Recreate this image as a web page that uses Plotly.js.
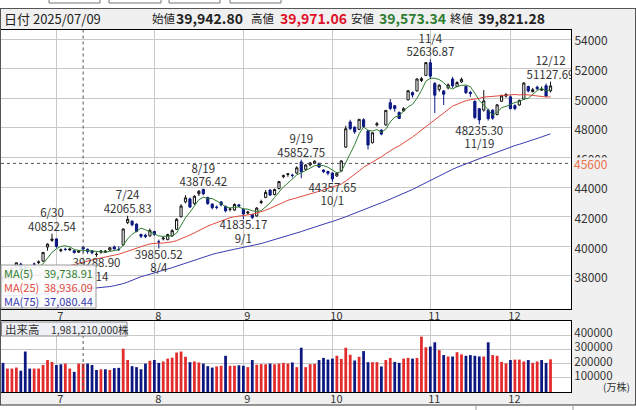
<!DOCTYPE html>
<html><head><meta charset="utf-8">
<script src="https://cdn.plot.ly/plotly-3.0.1.min.js"></script>
<style>html,body{margin:0;padding:0;background:#fff;}#chart{width:636px;height:410px;}</style>
</head><body><div id="chart"></div><script>
// ---------------- DATA ----------------
const dates = ['6/13','6/16','6/17','6/18','6/19','6/20','6/23','6/24','6/25','6/26','6/27','6/30',
'7/1','7/2','7/3','7/4','7/7','7/8','7/9','7/10','7/11','7/14','7/15','7/16','7/17','7/18','7/22','7/23','7/24','7/25','7/28','7/29','7/30','7/31',
'8/1','8/4','8/5','8/6','8/7','8/8','8/12','8/13','8/14','8/15','8/18','8/19','8/20','8/21','8/22','8/25','8/26','8/27','8/28','8/29',
'9/1','9/2','9/3','9/4','9/5','9/8','9/9','9/10','9/11','9/12','9/16','9/17','9/18','9/19','9/22','9/24','9/25','9/26','9/29','9/30',
'10/1','10/2','10/3','10/6','10/7','10/8','10/9','10/10','10/14','10/15','10/16','10/17','10/20','10/21','10/22','10/23','10/24','10/27','10/28','10/29','10/30','10/31',
'11/4','11/5','11/6','11/7','11/10','11/11','11/12','11/13','11/14','11/17','11/18','11/19','11/20','11/21','11/25','11/26','11/27','11/28',
'12/1','12/2','12/3','12/4','12/5','12/8','12/9','12/10','12/11','12/12'];

const opens = [37900,37900,38350,38600,38800,38600,38300,38800,38900,39000,39950,40400,
40500,39700,39800,39750,39700,39600,39942.80,39800,39700,39450,39600,39600,39750,39950,39800,40100,41600,41700,41500,40800,40750,40700,
41000,40300,40500,40450,40700,41150,42000,43000,43200,42900,43550,43850,43300,42850,42650,43000,42700,42500,42450,42800,
42500,42250,42150,42050,42950,43300,43800,43500,43900,44700,44850,44800,44950,45700,45200,45500,45600,45600,45150,45050,
44950,44750,45100,46700,48400,48050,47900,48550,47800,47000,48200,47850,48200,49700,49500,49050,49150,49900,50400,50500,51200,51550,
52400,51000,50600,50500,50700,51300,50800,51100,50800,50400,49800,49300,49200,49200,49200,48900,49800,50150,
50100,49500,49550,49950,50800,50450,50750,50550,50850,50500];

const highs = [38000,38350,38600,38900,38900,38700,38400,38900,39050,39600,40200,40852.54,
40550,39850,39900,39900,39750,39750,39971.06,39850,39750,39600,39750,39750,39950,40050,40000,41200,42065.83,41750,41550,40850,40850,41200,
41050,40450,40650,40850,41150,41900,42850,43450,43300,43450,43800,43876.42,43350,42900,42750,43050,42750,42600,42900,42850,
42550,42400,42200,42650,43150,43800,43850,43900,44400,44850,44950,44900,45400,45852.75,45550,45700,45800,45650,45200,45100,
45000,45000,45800,48150,48550,48100,48600,48650,47850,47700,48400,47900,49200,49950,49550,49100,49400,50550,50450,51350,51450,52450,
52636.87,51100,50950,50550,51000,51450,51150,51400,50850,50500,49850,49350,50550,49300,49250,49600,50250,50350,
50200,49600,49900,51100,50850,50700,50850,50800,51000,51127.69];

const lows = [37540,37880,38250,38500,38450,38300,38100,38600,38800,38950,39700,40300,
39900,39600,39700,39700,39500,39550,39573.34,39500,39450,39288.90,39500,39550,39700,39800,39700,40050,41500,41350,40950,40550,40550,40650,
40700,39850.52,40400,40400,40650,41100,41950,42900,42600,42800,43400,43450,42800,42500,42500,42700,42300,42350,42400,42650,
41835.17,42150,41850,42000,42850,43250,43400,43450,43850,44600,44700,44650,44900,44600,45150,45400,45550,45300,44950,44800,
44357.65,44700,45050,46650,47850,47600,47850,48000,46550,46950,48100,47500,48150,49200,49100,48600,49100,49850,50050,50450,51100,51500,
51300,49000,50450,49550,50600,50700,50750,51050,50300,50100,48600,48235.30,49100,48500,48550,48850,49750,50050,
49250,49200,49500,49900,50400,50400,50550,50500,50100,50400];

const closes = [37834,38311,38536,38885,38488,38403,38354,38790,38942,39584,40150,40487,
39986,39762,39785,39810,39587,39688,39821.28,39646,39569,39459,39678,39663,39901,39819,39774,41171,41826,41456,40998,40674,40654,41069,
40799,40290,40549,40794,41059,41820,42718,43274,42649,43378,43714,43546,42888,42610,42633,42807,42394,42520,42829,42718,
42188,42310,41938,42580,43018,43643,43459,43837,44372,44768,44902,44790,45303,45045,45493,45630,45754,45354,45043,44932,
44550,44936,45769,47944,47950,47734,48580,48088,46847,47672,48277,47582,49185,49316,49307,48641,49299,50512,50219,51307,51325,52411,
51497,50212,50883,50276,50911,50842,51063,51281,50376,50323,48702,48537,49823,48625,48659,49559,50167,50253,
49303,49303.5,49864,51028,50491,50581,50655,50602,50148,50836];

// closes before the visible window (2/25 - 6/12), used for the moving averages
const priorCloses = [38237,38142,38256,37155,
37785,37331,37418,37704,36887,37028,36793,36819,36790,37053,37396,37845,37751,37677,37608,37780,38027,37799,37120,35617,
35624,35725,34735,33780,31136,33012,31714,34609,33585,33982,34267,33920,34377,34730,34280,34220,34868,35039,35705,35839,36045,
36452,36830,36779,36928,37503,37644,38183,38128,37755,37753,37498,37529,37298,36985,37160,37531,37724,38722,38432,37965,
37470,37446,37747,37554,37741,38088,38211,38421,38173];

// volume (万株)
const volumes = [205000,165000,165000,172000,150000,285000,165000,165000,165000,190000,225000,212000,
190000,195000,200000,165000,142000,200000,198121,200000,190000,155000,160000,160000,155000,168000,170000,305000,225000,182000,175000,160000,200000,220000,
225000,205000,215000,235000,242000,278000,285000,248000,210000,215000,208000,200000,182000,172000,180000,185000,255000,185000,185000,188000,
185000,175000,225000,192000,196000,195000,200000,195000,200000,205000,200000,208000,175000,312000,175000,196000,198000,225000,240000,228000,
235000,255000,233000,312000,262000,222000,248000,288000,210000,210000,210000,180000,225000,240000,212000,205000,235000,240000,235000,240000,390000,315000,
320000,350000,295000,260000,250000,250000,280000,265000,255000,260000,255000,250000,250000,350000,260000,255000,212000,202000,
225000,228000,228000,215000,225000,205000,215000,225000,205000,230000];

const prevCloseBeforeWindow = 38173;
const monthTickDates = ['7/1','8/1','9/1','10/1','11/4','12/1'];
const monthTickText = ['7','8','9','10','11','12'];
const priceTicks = [38000,40000,42000,44000,46000,48000,50000,52000,54000];
const volumeTicks = [100000,200000,300000,400000];
const peakDates = ['6/30','7/24','8/19','9/19','11/4','12/12'];
const troughDates = ['7/14','8/4','9/1','10/1','11/19'];
const cursorDate = '7/9';
const referencePrice = 45600;
const maPeriods = [5,25,75];
const maNames = ['MA(5)','MA(25)','MA(75)'];
const maLegendValues = ['39,738.91','38,936.09','37,080.44'];
const headerDate = '2025/07/09';
const headerLabels = ['始値','高値','安値','終値'];
const headerValues = ['39,942.80','39,971.06','39,573.34','39,821.28'];
const volumeCaption = '出来高';
const volumeValueText = '1,981,210,000株';
const volumeUnit = '(万株)';

// ---------------- STYLE / LAYOUT ----------------
const FONT = '"Noto Sans CJK JP","Noto Sans",sans-serif';
const NAVY = '#0c1880';
const RED = '#e32b2b';
const MA_COLORS = ['#2f7d2f','#e04a3f','#3a3ab0'];
const HEADER_COLORS = ['#222','#e0102a','#2e7d32','#222'];
const W=636,H=410,mL=1,mR=65,mT=30,mB=18;
const plotW=W-mL-mR, plotH=H-mT-mB;
const px = p => (p-mL)/plotW;
const py = p => (H-mB-p)/plotH;

// moving averages
const allCloses = priorCloses.concat(closes);
const nPrior = priorCloses.length;
const maSeries = maPeriods.map(n => closes.map((c,i)=>{
  const end = nPrior+i; const st = end-n+1;
  if (st<0) return null;
  let s=0; for(let k=st;k<=end;k++) s+=allCloses[k];
  return s/n;
}));

const volColors = closes.map((c,i)=>{
  const prev = i===0 ? prevCloseBeforeWindow : closes[i-1];
  return c>=prev ? RED : NAVY;
});

const traces = [];
maSeries.forEach((ys,k)=>traces.push({type:'scatter',mode:'lines',x:dates,y:ys,xaxis:'x',yaxis:'y',
  line:{color:MA_COLORS[k],width:1},hoverinfo:'skip',showlegend:false}));
traces.push({type:'candlestick',x:dates,open:opens,high:highs,low:lows,close:closes,xaxis:'x',yaxis:'y',
  whiskerwidth:0,
  increasing:{line:{color:'#111111',width:1},fillcolor:'#ffffff'},
  decreasing:{line:{color:NAVY,width:1},fillcolor:NAVY},
  hoverinfo:'skip',showlegend:false});

// high / low labels: value line and date line as separate text traces (tight line spacing)
const TXT = {family:FONT,size:11.5,color:'#333'};
const pIdx = peakDates.map(d=>dates.indexOf(d));
const pY = pIdx.map(i=>highs[i]);
traces.push({type:'scatter',mode:'text',x:peakDates,y:pY,text:pIdx.map(i=>highs[i].toFixed(2)),
  textposition:'top center',textfont:TXT,cliponaxis:true,hoverinfo:'skip',showlegend:false});
traces.push({type:'scatter',mode:'markers+text',x:peakDates,y:pY,text:peakDates,marker:{size:20,opacity:0},
  textposition:'top center',textfont:TXT,cliponaxis:true,hoverinfo:'skip',showlegend:false});
const tIdx = troughDates.map(d=>dates.indexOf(d));
const tY = tIdx.map(i=>lows[i]);
traces.push({type:'scatter',mode:'markers+text',x:troughDates,y:tY,text:tIdx.map(i=>lows[i].toFixed(2)),marker:{size:1,opacity:0},
  textposition:'bottom center',textfont:TXT,cliponaxis:true,hoverinfo:'skip',showlegend:false});
traces.push({type:'scatter',mode:'markers+text',x:troughDates,y:tY,text:troughDates,marker:{size:22.5,opacity:0},
  textposition:'bottom center',textfont:TXT,cliponaxis:true,hoverinfo:'skip',showlegend:false});

traces.push({type:'bar',x:dates,y:volumes,xaxis:'x2',yaxis:'y2',marker:{color:volColors,line:{width:0}},
  hoverinfo:'skip',showlegend:false});

const cursorIdx = dates.indexOf(cursorDate);
const mainBottom = py(308.5);
const volTop = py(321);

const shapes = [
  {type:'rect',xref:'paper',yref:'paper',x0:px(-2),x1:px(640),y0:py(8),y1:py(-2),fillcolor:'#ffffff',line:{width:0},layer:'below'},
  {type:'rect',xref:'paper',yref:'paper',x0:px(49),x1:px(100),y0:py(3),y1:py(-6),fillcolor:'rgba(0,0,0,0)',line:{color:'#777',width:1}},
  {type:'rect',xref:'paper',yref:'paper',x0:px(109),x1:px(161),y0:py(3),y1:py(-6),fillcolor:'rgba(0,0,0,0)',line:{color:'#777',width:1}},
  {type:'rect',xref:'paper',yref:'paper',x0:px(169),x1:px(220),y0:py(3),y1:py(-6),fillcolor:'rgba(0,0,0,0)',line:{color:'#777',width:1}},
  {type:'rect',xref:'paper',yref:'paper',x0:px(230),x1:px(281),y0:py(3),y1:py(-6),fillcolor:'rgba(0,0,0,0)',line:{color:'#777',width:1}},
  {type:'line',xref:'paper',yref:'paper',x0:px(0),x1:px(636),y0:py(8.5),y1:py(8.5),line:{color:'#555',width:1}},
  {type:'line',xref:'paper',yref:'paper',x0:px(0.5),x1:px(0.5),y0:py(8.5),y1:py(405),line:{color:'#555',width:1}},
  {type:'line',xref:'paper',yref:'paper',x0:px(635.5),x1:px(635.5),y0:py(8.5),y1:py(405),line:{color:'#555',width:1}},
  {type:'rect',xref:'paper',yref:'paper',x0:px(-2),x1:px(640),y0:py(412),y1:py(405),fillcolor:'#ffffff',line:{width:0},layer:'below'},
  {type:'line',xref:'paper',yref:'paper',x0:px(0),x1:px(636),y0:py(405),y1:py(405),line:{color:'#333',width:1}},
  {type:'line',xref:'paper',yref:'paper',x0:px(476),x1:px(476),y0:py(405),y1:py(411),line:{color:'#999',width:1}},
  {type:'line',xref:'paper',yref:'paper',x0:px(573),x1:px(573),y0:py(405),y1:py(411),line:{color:'#999',width:1}},
  {type:'line',xref:'x',yref:'paper',x0:cursorIdx,x1:cursorIdx,y0:mainBottom,y1:1,line:{color:'#555',width:1,dash:'dot'}},
  {type:'line',xref:'x',yref:'paper',x0:cursorIdx,x1:cursorIdx,y0:0,y1:volTop,line:{color:'#555',width:1,dash:'dot'}},
  {type:'line',xref:'paper',yref:'y',x0:0,x1:1,y0:referencePrice,y1:referencePrice,line:{color:'#555',width:1,dash:'dot'}},
  {type:'rect',xref:'paper',yref:'paper',x0:px(572),x1:px(618),y0:py(169.5),y1:py(157.5),fillcolor:'#f0f0f0',line:{width:0},layer:'above'},
  {type:'rect',xref:'paper',yref:'paper',x0:px(1),x1:px(96),y0:py(308),y1:py(265),fillcolor:'rgba(252,252,252,0.9)',line:{color:'#9a9a9a',width:1},layer:'above'},
  {type:'rect',xref:'paper',yref:'paper',x0:px(1.5),x1:px(127),y0:py(336),y1:py(322),fillcolor:'#eef0f6',line:{color:'#8a8a8a',width:1},layer:'above'}
];

const ann = [];
ann.push({xref:'paper',yref:'paper',x:px(2),y:py(18),xanchor:'left',yanchor:'middle',showarrow:false,
  text:'日付 '+headerDate,font:{family:FONT,size:13,color:'#222'}});
const hdrLabelX=[150,249,349,448], hdrValX=[174,278,377,476];
headerLabels.forEach((t,k)=>{
  ann.push({xref:'paper',yref:'paper',x:px(hdrLabelX[k]),y:py(18),xanchor:'left',yanchor:'middle',showarrow:false,
    text:t,font:{family:FONT,size:11.5,color:'#222'}});
  ann.push({xref:'paper',yref:'paper',x:px(hdrValX[k]),y:py(18),xanchor:'left',yanchor:'middle',showarrow:false,
    text:'<b>'+headerValues[k]+'</b>',font:{family:FONT,size:14,color:HEADER_COLORS[k]}});
});
maNames.forEach((t,k)=>{
  const yy = py(272.5+k*14);
  ann.push({xref:'paper',yref:'paper',x:px(2),y:yy,xanchor:'left',yanchor:'middle',showarrow:false,
    text:t,font:{family:FONT,size:11,color:MA_COLORS[k]}});
  ann.push({xref:'paper',yref:'paper',x:px(95),y:yy,xanchor:'right',yanchor:'middle',showarrow:false,
    text:maLegendValues[k],font:{family:FONT,size:11,color:MA_COLORS[k]}});
});
ann.push({xref:'paper',yref:'y',x:px(573),y:referencePrice,xanchor:'left',yanchor:'middle',showarrow:false,
  text:String(referencePrice),borderpad:0,font:{family:FONT,size:12,color:'#e8704a'}});
ann.push({xref:'paper',yref:'paper',x:px(3),y:py(329),xanchor:'left',yanchor:'middle',showarrow:false,
  text:volumeCaption,font:{family:FONT,size:11.5,color:'#333'}});
ann.push({xref:'paper',yref:'paper',x:px(49),y:py(329),xanchor:'left',yanchor:'middle',showarrow:false,
  text:volumeValueText,font:{family:FONT,size:10.5,color:'#333'}});
ann.push({xref:'paper',yref:'paper',x:px(632),y:py(386),xanchor:'right',yanchor:'middle',showarrow:false,
  text:volumeUnit,font:{family:FONT,size:10,color:'#333'}});

const xcommon = {type:'category',range:[-0.45,127.6],tickvals:monthTickDates,ticktext:monthTickText,
  showgrid:true,gridcolor:'#c8c8c8',gridwidth:1,showline:true,mirror:true,linecolor:'#000',linewidth:1,
  ticks:'',zeroline:false,tickfont:{family:FONT,size:11,color:'#333'},ticklabelshift:4,ticklabelstandoff:-3,
  fixedrange:true,rangeslider:{visible:false}};
const ycommon = {showgrid:true,gridcolor:'#c8c8c8',showline:true,mirror:true,linecolor:'#000',linewidth:1,
  ticks:'',zeroline:false,tickformat:'d',tickfont:{family:FONT,size:12,color:'#333'},fixedrange:true,side:'right'};
const layout = {
  width:W,height:H,margin:{l:mL,r:mR,t:mT,b:mB,pad:0},
  paper_bgcolor:'#f0f0f0',plot_bgcolor:'#ffffff',showlegend:false,
  bargap:0.38,
  xaxis:Object.assign({},xcommon,{anchor:'y',domain:[0,1]}),
  xaxis2:Object.assign({},xcommon,{anchor:'y2',domain:[0,1],matches:'x'}),
  yaxis:Object.assign({},ycommon,{domain:[mainBottom,1],range:[35797,54615],tickvals:priceTicks,ticklabelshift:2}),
  yaxis2:Object.assign({},ycommon,{domain:[0,volTop],range:[0,500000],tickvals:volumeTicks,ticklabelshift:-2,
    tickfont:{family:FONT,size:11.5,color:'#333'}}),
  shapes:shapes,annotations:ann
};
Plotly.newPlot('chart',traces,layout,{displayModeBar:false,staticPlot:true});
</script></body></html>
